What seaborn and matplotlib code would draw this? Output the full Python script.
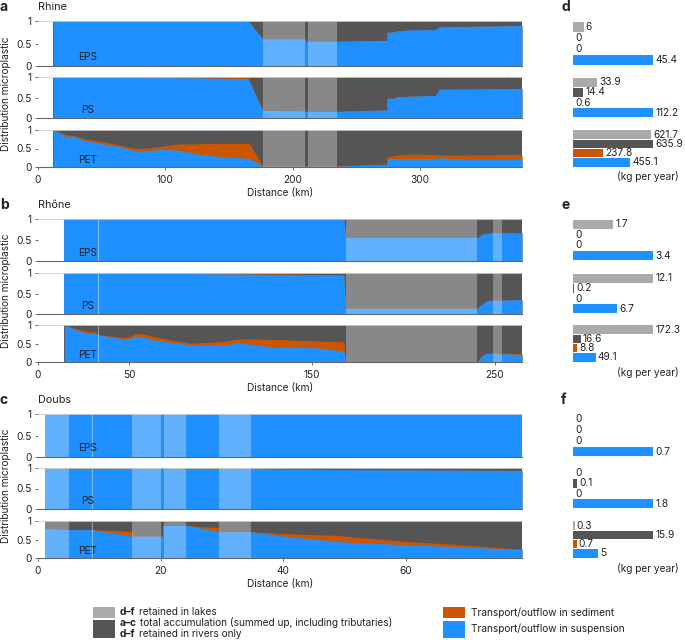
import numpy as np
import pandas as pd
import seaborn as sns
import matplotlib
matplotlib.use("Agg")
import matplotlib.pyplot as plt
from matplotlib.patches import Rectangle

W, H = 685, 640
FS = 7.3

# colours
SUSP = "#1e90ff"
SED = "#cc5500"
ACC = "#555555"
LAKE = "#aaaaaa"
TXT = "#222222"

polymers = ["EPS", "PS", "PET"]

# ---- a: Rhine (km along river, share in suspension, share in sediment) ----
rhine_eps_km = [12, 165, 176.5, 210, 210, 234, 274, 274, 281, 281, 289, 289, 312, 315, 380]
rhine_eps_susp = [1.0, 1.0, 0.60, 0.60, 0.55, 0.55, 0.57, 0.75, 0.76, 0.78, 0.79, 0.80, 0.81, 0.87, 0.90]
rhine_eps_sed = [0] * 15

rhine_ps_km = [12, 120, 165, 176.5, 210, 210, 234, 274, 274, 281, 281, 289, 289, 312, 315, 380]
rhine_ps_susp = [1.0, 0.98, 0.96, 0.18, 0.17, 0.16, 0.16, 0.20, 0.48, 0.49, 0.52, 0.52, 0.53, 0.55, 0.70, 0.72]
rhine_ps_sed = [0, 0, 0.025, 0, 0, 0, 0, 0, 0, 0, 0, 0, 0, 0, 0, 0]

rhine_pet_km = [12, 17.3, 21.2, 25.1, 25.6, 35.5, 48.6, 64.3, 77.4, 87.8, 98, 106, 111, 127, 148, 166,
                176.5, 234, 255, 274, 274, 281, 289, 312.7, 315, 339, 375, 380]
rhine_pet_susp = [1.0, 0.91, 0.85, 0.79, 0.86, 0.73, 0.64, 0.55, 0.43, 0.45, 0.48, 0.46, 0.45, 0.34, 0.27, 0.23,
                  0.02, 0.02, 0.05, 0.06, 0.23, 0.23, 0.23, 0.23, 0.25, 0.20, 0.21, 0.23]
rhine_pet_sed = [0, 0.03, 0.03, 0.06, 0.01, 0.04, 0.06, 0.04, 0.07, 0.07, 0.08, 0.15, 0.17, 0.29, 0.37, 0.41,
                 0.01, 0.01, 0.01, 0.02, 0.04, 0.09, 0.12, 0.11, 0.07, 0.12, 0.13, 0.11]

rhine_lakes = [(176.5, 210), (212, 234.5)]
rhine_marks = []

# ---- b: Rhône ----
rhone_eps_km = [14, 167.5, 168.4, 240.6, 242, 244, 248, 265]
rhone_eps_susp = [1, 1, 0.56, 0.56, 0.60, 0.65, 0.67, 0.67]
rhone_eps_sed = [0] * 8

rhone_ps_km = [14, 60, 120, 167.5, 168.4, 240.6, 242, 244, 246, 265]
rhone_ps_susp = [1, 1, 0.97, 0.94, 0.14, 0.14, 0.20, 0.26, 0.33, 0.35]
rhone_ps_sed = [0, 0, 0.01, 0.02, 0, 0, 0, 0, 0, 0]

rhone_pet_km = [14.4, 20.3, 27.5, 31.2, 33, 40.3, 47.6, 51.3, 53.1, 58.6, 64, 76.8, 84.1, 87.7, 91.4, 104,
                107.8, 118.8, 129.7, 133.4, 137, 151.6, 166.2, 167.5, 168.4, 240.6, 242.7, 245.5, 255, 265]
rhone_pet_susp = [1, 0.88, 0.77, 0.79, 0.73, 0.68, 0.61, 0.66, 0.70, 0.66, 0.59, 0.50, 0.47, 0.45, 0.46, 0.47,
                  0.52, 0.47, 0.39, 0.40, 0.41, 0.39, 0.30, 0.28, 0.01, 0.01, 0.15, 0.23, 0.22, 0.20]
rhone_pet_sed = [0, 0.03, 0.05, 0.03, 0.02, 0.02, 0.05, 0.05, 0.07, 0.09, 0.09, 0.06, 0.04, 0.07, 0.07, 0.10,
                 0.10, 0.15, 0.22, 0.21, 0.19, 0.18, 0.25, 0.26, 0, 0, 0.01, 0.01, 0.02, 0.03]

rhone_lakes = [(168.4, 240.6), (249, 254)]
rhone_marks = [32.8]

# ---- c: Doubs ----
doubs_eps_km = [1.1, 79]
doubs_eps_susp = [1, 1]
doubs_eps_sed = [0, 0]

doubs_ps_km = [1.1, 34.7, 40, 79]
doubs_ps_susp = [0.99, 0.99, 0.97, 0.94]
doubs_ps_sed = [0, 0, 0, 0]

doubs_pet_km = [1.1, 5.1, 8.6, 15.4, 15.4, 20.35, 20.35, 24.2, 29.5, 29.6, 34.7, 40.2, 48.9, 51.6, 59.8,
                70.7, 78.5, 79]
doubs_pet_susp = [0.79, 0.77, 0.77, 0.59, 0.59, 0.59, 0.88, 0.88, 0.72, 0.71, 0.71, 0.59, 0.45, 0.42, 0.36,
                  0.29, 0.23, 0.23]
doubs_pet_sed = [0, 0, 0, 0.13, 0, 0, 0, 0, 0.10, 0, 0, 0.07, 0.16, 0.15, 0.09, 0.05, 0.01, 0.03]

doubs_lakes = [(1.1, 5.1), (15.4, 20.1), (20.6, 24.2), (29.6, 34.7)]
doubs_marks = [8.85]

# ---- d-f: totals (kg per year) ----
bar_cats = ["lakes", "accumulation", "sediment", "suspension"]
rhine_eps_bar = [6, 0, 0, 45.4]
rhine_ps_bar = [33.9, 14.4, 0.6, 112.2]
rhine_pet_bar = [621.7, 635.9, 237.8, 455.1]
rhone_eps_bar = [1.7, 0, 0, 3.4]
rhone_ps_bar = [12.1, 0.2, 0, 6.7]
rhone_pet_bar = [172.3, 16.6, 8.8, 49.1]
doubs_eps_bar = [0, 0, 0, 0.7]
doubs_ps_bar = [0, 0.1, 0, 1.8]
doubs_pet_bar = [0.3, 15.9, 0.7, 5]

sns.set_theme(style="white")
plt.rcParams["font.family"] = ["Inter", "DejaVu Sans"]
plt.rcParams["font.size"] = FS
plt.rcParams["text.color"] = TXT

fig = plt.figure(figsize=(W / 100, H / 100), dpi=100)


def px_axes(x0, y0, x1, y1):
    return fig.add_axes([x0 / W, 1 - y1 / H, (x1 - x0) / W, (y1 - y0) / H])


def draw_area(ax, km, susp, sed, lakes, marks, xmax, label, bottom_row, xticks):
    km = np.asarray(km, float)
    susp = np.asarray(susp, float)
    sed = np.asarray(sed, float)
    ax.fill_between(km, 0, 1, color=ACC, lw=0)
    ax.fill_between(km, 0, susp + sed, color=SED, lw=0)
    ax.fill_between(km, 0, susp, color=SUSP, lw=0)
    for a, b in lakes:
        ax.axvspan(a, b, color="white", alpha=0.3, lw=0)
    for m in marks:
        ax.axvline(m, color="white", alpha=0.45, lw=0.7)
    ax.set_xlim(0, xmax)
    ax.set_ylim(0, 1)
    ax.set_yticks([0, 0.5, 1])
    ax.set_yticklabels(["0", "0.5", "1"])
    for s in ["left", "right"]:
        ax.spines[s].set_visible(False)
    ax.spines["top"].set_color("#cfcfcf")
    ax.spines["top"].set_linewidth(0.6)
    ax.spines["bottom"].set_color("#666666")
    ax.spines["bottom"].set_linewidth(0.8)
    ax.tick_params(axis="y", left=True, length=2.5, width=0.6, color="#555555",
                   pad=2, labelsize=FS, labelcolor=TXT)
    if bottom_row:
        ax.set_xticks(xticks)
        ax.tick_params(axis="x", bottom=True, length=2.5, width=0.6, color="#555555",
                       pad=3, labelsize=FS, labelcolor=TXT)
    else:
        ax.set_xticks([])
    ax.text(0.103, 0.2, label, transform=ax.transAxes, ha="center", va="center",
            size=FS, color=TXT)


def draw_bars(ax, vals):
    df = pd.DataFrame({"cat": bar_cats, "val": vals})
    sns.barplot(data=df, x="val", y="cat", hue="cat", order=bar_cats, hue_order=bar_cats,
                palette=[LAKE, ACC, SED, SUSP], orient="h", width=0.9, saturation=1,
                linewidth=0, legend=False, ax=ax)
    ax.set_xlim(0, max(vals))
    ax.set_ylim(3.5, -0.5)
    ax.axis("off")
    for i, v in enumerate(vals):
        ax.annotate(f"{v:g}", (v, i), xytext=(1.5, 0), textcoords="offset points",
                    ha="left", va="center", size=FS, color=TXT, annotation_clip=False)


rivers = [
    ("a", "d", "Rhine", 380, [0, 100, 200, 300], rhine_lakes, rhine_marks,
     [(rhine_eps_km, rhine_eps_susp, rhine_eps_sed, rhine_eps_bar),
      (rhine_ps_km, rhine_ps_susp, rhine_ps_sed, rhine_ps_bar),
      (rhine_pet_km, rhine_pet_susp, rhine_pet_sed, rhine_pet_bar)],
     [(21, 66), (77, 118), (130, 167)]),
    ("b", "e", "Rhône", 265, [0, 50, 150, 250], rhone_lakes, rhone_marks,
     [(rhone_eps_km, rhone_eps_susp, rhone_eps_sed, rhone_eps_bar),
      (rhone_ps_km, rhone_ps_susp, rhone_ps_sed, rhone_ps_bar),
      (rhone_pet_km, rhone_pet_susp, rhone_pet_sed, rhone_pet_bar)],
     [(219, 261), (273, 314), (325, 362)]),
    ("c", "f", "Doubs", 79, [0, 20, 40, 60], doubs_lakes, doubs_marks,
     [(doubs_eps_km, doubs_eps_susp, doubs_eps_sed, doubs_eps_bar),
      (doubs_ps_km, doubs_ps_susp, doubs_ps_sed, doubs_ps_bar),
      (doubs_pet_km, doubs_pet_susp, doubs_pet_sed, doubs_pet_bar)],
     [(414, 457), (468, 509), (521, 558)]),
]

for let, let2, name, xmax, xticks, lakes, marks, series, rows in rivers:
    top = rows[0][0]
    bot = rows[-1][1]
    for k, ((km, susp, sed, bars), (y0, y1)) in enumerate(zip(series, rows)):
        ax = px_axes(38, y0, 522, y1)
        draw_area(ax, km, susp, sed, lakes, marks, xmax, polymers[k], k == 2, xticks)
        bx = px_axes(573, y0, 653, y1)
        draw_bars(bx, bars)
    fig.text(0, 1 - (top - 14) / H, let, weight="bold", size=10, va="center", ha="left")
    fig.text(38 / W, 1 - (top - 14) / H, name, size=7.8, va="center", ha="left")
    fig.text(561 / W, 1 - (top - 14) / H, let2, weight="bold", size=10, va="center", ha="left")
    fig.text(6 / W, 1 - (top + bot) / 2 / H, "Distribution microplastic", rotation=90,
             size=FS, va="center", ha="center")
    fig.text(280 / W, 1 - (bot + 26) / H, "Distance (km)", size=FS, va="center", ha="center")
    fig.text(648 / W, 1 - (bot + 10) / H, "(kg per year)", size=FS, va="center", ha="center")

# legend
lax = fig.add_axes([0, 0, 1, 1])
lax.axis("off")
lax.set_xlim(0, W)
lax.set_ylim(H, 0)
lax.add_patch(Rectangle((93, 607), 22, 11, color=LAKE, lw=0))
lax.add_patch(Rectangle((93, 620), 22, 18, color=ACC, lw=0))
lax.add_patch(Rectangle((443, 607), 22, 11, color=SED, lw=0))
lax.add_patch(Rectangle((443, 621), 22, 17, color=SUSP, lw=0))
for y, bold, rest in [(612, "d–f", "retained in lakes"),
                      (623, "a–c", "total accumulation (summed up, including tributaries)"),
                      (634, "d–f", "retained in rivers only")]:
    t = lax.text(120, y, bold, weight="bold", size=FS, va="center", ha="left")
    lax.annotate(rest, xy=(1, 0), xycoords=t, xytext=(2.5, 0), textcoords="offset points",
                 va="bottom", ha="left", size=FS)
lax.text(471, 613, "Transport/outflow in sediment", size=FS, va="center", ha="left")
lax.text(471, 629, "Transport/outflow in suspension", size=FS, va="center", ha="left")

fig.savefig("out.png", dpi=100)
